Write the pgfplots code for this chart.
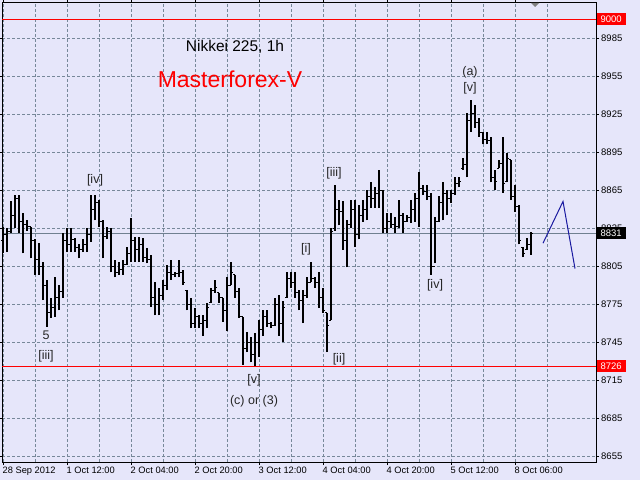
\documentclass[border=0pt]{standalone}
\usepackage{pgfplots}
\pgfplotsset{compat=1.18}
\usepackage{pgfplotstable}
\usepackage{fontspec}
\setmainfont{Liberation Sans}

\definecolor{bg}{RGB}{230,230,250}
\definecolor{gridc}{RGB}{119,136,153}
\definecolor{pline}{RGB}{112,128,144}
\definecolor{proj}{RGB}{25,25,160}

% open tick to the left, close tick to the right
\pgfdeclareplotmark{otick}{\pgfpathmoveto{\pgfqpoint{-1.6pt}{0pt}}\pgfpathlineto{\pgfqpoint{0pt}{0pt}}\pgfusepathqstroke}
\pgfdeclareplotmark{ctick}{\pgfpathmoveto{\pgfqpoint{0pt}{0pt}}\pgfpathlineto{\pgfqpoint{1.6pt}{0pt}}\pgfusepathqstroke}

% hourly bars, index from 28 Sep 2012
\pgfplotstableread{
k hi lo op cl
0 8836 8815 8825 8830
1 8835 8816 8830 8832
2 8856 8831 8832 8845
3 8861 8835 8845 8858
4 8861 8831 8858 8840
5 8847 8815 8840 8838
6 8841 8833 8838 8836
7 8836 8811 8836 8825
8 8826 8798 8825 8810
9 8823 8798 8810 8805
10 8808 8778 8805 8790
11 8794 8757 8790 8768
12 8780 8764 8768 8772
13 8796 8765 8772 8780
14 8790 8770 8780 8785
15 8831 8780 8785 8825
16 8835 8816 8825 8822
17 8835 8816 8822 8826
18 8827 8816 8826 8820
19 8822 8811 8820 8818
20 8826 8816 8818 8822
21 8835 8816 8822 8830
22 8861 8824 8830 8850
23 8861 8841 8850 8855
24 8857 8836 8855 8840
25 8841 8811 8840 8828
26 8836 8826 8828 8832
27 8835 8800 8832 8805
28 8810 8796 8805 8800
29 8808 8798 8800 8802
30 8810 8798 8802 8806
31 8820 8806 8806 8815
32 8843 8808 8815 8825
33 8828 8808 8825 8818
34 8828 8808 8818 8822
35 8827 8808 8822 8812
36 8819 8807 8812 8810
37 8814 8773 8810 8780
38 8792 8766 8780 8775
39 8788 8766 8775 8782
40 8794 8778 8782 8790
41 8806 8786 8790 8800
42 8810 8794 8800 8798
43 8800 8796 8798 8799
44 8810 8796 8799 8800
45 8802 8790 8800 8792
46 8786 8770 8786 8775
47 8780 8756 8775 8760
48 8772 8756 8760 8765
49 8766 8756 8765 8760
50 8766 8750 8760 8762
51 8776 8756 8762 8772
52 8788 8776 8776 8786
53 8794 8784 8786 8788
54 8784 8776 8784 8780
55 8780 8761 8780 8770
56 8796 8754 8770 8790
57 8808 8790 8790 8800
58 8798 8780 8798 8785
59 8788 8764 8785 8765
60 8765 8727 8765 8740
61 8753 8737 8740 8745
62 8749 8729 8745 8735
63 8752 8726 8735 8745
64 8762 8733 8745 8755
65 8770 8750 8755 8765
66 8770 8757 8765 8760
67 8761 8756 8760 8758
68 8780 8758 8758 8775
69 8782 8750 8775 8760
70 8777 8745 8760 8772
71 8800 8780 8780 8795
72 8800 8788 8795 8792
73 8800 8780 8792 8784
74 8786 8770 8784 8778
75 8786 8760 8778 8782
76 8796 8780 8782 8792
77 8808 8792 8792 8795
78 8796 8788 8795 8792
79 8800 8772 8792 8780
80 8788 8768 8780 8770
81 8768 8737 8768 8758
82 8835 8762 8762 8832
83 8869 8833 8835 8850
84 8857 8837 8850 8848
85 8856 8818 8848 8825
86 8841 8804 8825 8838
87 8857 8835 8838 8850
88 8857 8820 8850 8830
89 8853 8826 8830 8845
90 8857 8840 8845 8850
91 8865 8841 8850 8860
92 8871 8851 8860 8858
93 8867 8851 8858 8862
94 8881 8851 8862 8865
95 8865 8831 8865 8835
96 8847 8831 8835 8840
97 8847 8835 8840 8838
98 8844 8831 8838 8836
99 8857 8835 8836 8845
100 8847 8831 8845 8840
101 8845 8840 8840 8843
102 8857 8839 8843 8850
103 8863 8840 8850 8858
104 8879 8836 8858 8866
105 8869 8861 8866 8864
106 8869 8857 8864 8860
107 8863 8798 8860 8805
108 8844 8807 8805 8840
109 8860 8840 8840 8855
110 8871 8841 8855 8862
111 8865 8845 8862 8858
112 8865 8855 8858 8862
113 8875 8861 8862 8870
114 8875 8867 8870 8872
115 8890 8881 8882 8885
116 8926 8875 8885 8920
117 8936 8911 8920 8925
118 8932 8914 8925 8918
119 8922 8907 8918 8910
120 8911 8901 8910 8905
121 8911 8901 8905 8904
122 8907 8871 8904 8875
123 8881 8865 8875 8872
124 8889 8882 8882 8886
125 8907 8863 8886 8870
126 8894 8871 8872 8890
127 8889 8857 8889 8860
128 8869 8848 8860 8852
129 8853 8822 8852 8825
130 8820 8812 8820 8815
131 8827 8818 8818 8822
132 8832 8814 8822 8831
}\bars

\begin{document}
\begin{tikzpicture}[x=1pt,y=1pt]
\useasboundingbox (0,0) rectangle (640,480);
\fill[bg] (0,0) rectangle (640,480);
\begin{axis}[
  at={(2pt,18pt)}, anchor=south west,
  scale only axis, width=594pt, height=460pt,
  xmin=-0.25, xmax=148.25,
  ymin=8650.3, ymax=9013.4,
  axis line style={black, line width=0.9pt},
  tick align=outside, major tick length=3pt, minor tick length=0pt,
  tick style={black, line width=0.6pt},
  xtick={0,16,...,128},
  minor xtick={8,24,...,144},
  xticklabels={28 Sep 2012, 1 Oct 12:00, 2 Oct 04:00, 2 Oct 20:00, 3 Oct 12:00, 4 Oct 04:00, 4 Oct 20:00, 5 Oct 12:00, 8 Oct 06:00},
  xticklabel style={anchor=north west, inner sep=0pt, xshift=-0.5pt, yshift=-2pt, font=\fontsize{9.3}{10}\selectfont},
  ytick={8655,8685,...,8985},
  yticklabels={8655,8685,8715,8745,8775,8805,8835,8865,8895,8925,8955,8985},
  yticklabel pos=right,
  yticklabel style={anchor=west, inner sep=0pt, xshift=2pt, font=\fontsize{9.5}{10}\selectfont},
  grid=both,
  major grid style={gridc, dash pattern=on 3pt off 2pt, line width=0.8pt},
  minor grid style={gridc, dash pattern=on 3pt off 2pt, line width=0.8pt},
  clip=true,
]
  % level lines
  \addplot[red, line width=0.9pt, forget plot] coordinates {(-0.25,9000) (148.25,9000)};
  \addplot[red, line width=0.9pt, forget plot] coordinates {(-0.25,8726) (148.25,8726)};
  \addplot[pline, line width=0.9pt, forget plot] coordinates {(-0.25,8831) (148.25,8831)};

  % high-low bars
  \addplot[draw=none, mark=none, forget plot,
    error bars/.cd, y dir=plus, y explicit, error mark=none,
    error bar style={draw=black, solid, line width=1.05pt}]
    table[x=k, y=lo, y error expr=\thisrow{hi}-\thisrow{lo}] {\bars};
  \addplot[only marks, mark=otick, mark options={black, line width=1pt}, forget plot]
    table[x=k, y=op] {\bars};
  \addplot[only marks, mark=ctick, mark options={black, line width=1pt}, forget plot]
    table[x=k, y=cl] {\bars};

  % projected path
  \addplot[proj, line width=1pt, forget plot] coordinates {(135,8823) (140,8856) (143,8803)};

  \node[font=\fontsize{15.5}{17}\selectfont, text=black] at (axis cs:58,8978) {Nikkei 225, 1h};
  \node[font=\fontsize{23}{25}\selectfont, text=red] at (axis cs:56.75,8952) {Masterforex-V};

  \begin{scope}[every node/.style={font=\fontsize{12.5}{14}\selectfont, text=black!85, inner sep=0pt}]
    \node at (axis cs:23,8873) {[iv]};
    \node at (axis cs:10.75,8750) {5};
    \node at (axis cs:10.75,8734) {[iii]};
    \node at (axis cs:62.75,8715) {[v]};
    \node at (axis cs:62.75,8698) {(c) or (3)};
    \node at (axis cs:75.75,8818) {[i]};
    \node at (axis cs:84,8731) {[ii]};
    \node at (axis cs:82.75,8878) {[iii]};
    \node at (axis cs:108,8790) {[iv]};
    \node at (axis cs:116.75,8958) {(a)};
    \node at (axis cs:116.75,8945) {[v]};
  \end{scope}

  \coordinate (p9000) at (axis cs:148.25,9000);
  \coordinate (p8726) at (axis cs:148.25,8726);
  \coordinate (p8831) at (axis cs:148.25,8831);
  \coordinate (tri) at (axis cs:133,9013.4);
\end{axis}
\begin{scope}[every node/.style={font=\fontsize{9.5}{10}\selectfont, text=white, inner xsep=2.5pt, inner ysep=1.5pt, anchor=west, minimum width=29pt, minimum height=12pt}]
  \node[fill=red] at ([xshift=0.5pt]p9000) {9000};
  \node[fill=red] at ([xshift=0.5pt]p8726) {8726};
  \node[fill=black] at ([xshift=0.5pt]p8831) {8831};
\end{scope}
\fill[gray] ([xshift=-4pt,yshift=-1pt]tri) -- ([xshift=4pt,yshift=-1pt]tri) -- ([yshift=-5pt]tri) -- cycle;
\end{tikzpicture}
\end{document}
